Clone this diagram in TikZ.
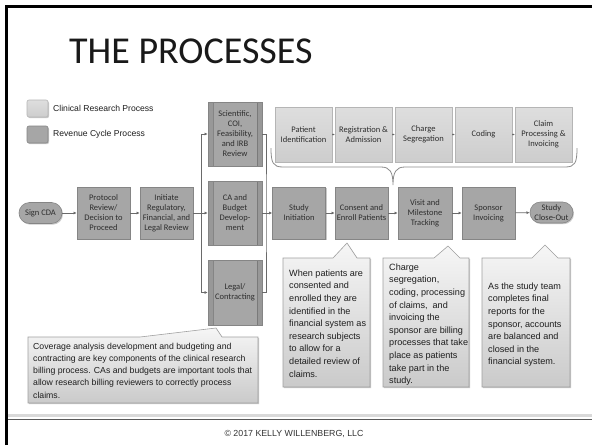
\documentclass[tikz,border=0pt]{standalone}
\usepackage{fontspec}
\setmainfont{Carlito}
\newfontfamily\arialf{Liberation Sans}
\usetikzlibrary{arrows.meta,shadows,calc}
\definecolor{boxdark}{HTML}{A6A6A6}
\definecolor{boxedge}{HTML}{858585}
\definecolor{boxlighttop}{HTML}{DEDEDE}
\definecolor{boxlightbot}{HTML}{CDCDCD}
\definecolor{lightedge}{HTML}{B5B5B5}
\definecolor{boxtext}{HTML}{2E2E2E}
\definecolor{linec}{HTML}{6A6A6A}
\definecolor{calltop}{HTML}{F6F6F6}
\definecolor{callbot}{HTML}{CACACA}
\definecolor{calledge}{HTML}{A0A0A0}
\definecolor{calltext}{HTML}{1E1E1E}
\newcommand{\bxfont}{\fontsize{8.5}{10}\selectfont}
\newcommand{\clfont}{\arialf\fontsize{9.1}{12.6}\selectfont}
\newcommand{\clfontb}{\arialf\fontsize{8.7}{12.2}\selectfont}
\newcommand{\lgfont}{\arialf\fontsize{8.6}{10}\selectfont}
\tikzset{
  shad/.style={drop shadow={shadow xshift=1pt,shadow yshift=-1.2pt,opacity=0.35,fill=black!60}},
  dbox/.style={draw=boxedge, line width=0.6pt, fill=boxdark, text=boxtext, minimum width=53pt,
    minimum height=52pt, align=center, inner sep=1pt, font=\bxfont, shad},
  lbox/.style={draw=lightedge, line width=0.6pt, top color=boxlighttop, bottom color=boxlightbot,
    text=boxtext, minimum width=57pt, minimum height=55pt, align=center, inner sep=1pt, font=\bxfont, shad},
  predef/.style={dbox, minimum width=54pt, minimum height=64pt,
    path picture={
      \draw[boxedge, line width=0.6pt] ([xshift=5pt]path picture bounding box.north west) -- ([xshift=5pt]path picture bounding box.south west);
      \draw[boxedge, line width=0.6pt] ([xshift=-5pt]path picture bounding box.north east) -- ([xshift=-5pt]path picture bounding box.south east);
      \fill[black, opacity=0.08] (path picture bounding box.north west) rectangle ([xshift=5pt]path picture bounding box.south west);
      \fill[black, opacity=0.08] ([xshift=-5pt]path picture bounding box.north east) rectangle (path picture bounding box.south east);
    }},
  pill/.style={dbox, rounded corners=10.5pt, minimum width=43pt, minimum height=21pt},
  arr/.style={draw=linec, line width=0.6pt, -{Latex[length=3.2pt,width=3pt]}},
  sarr/.style={draw=linec, line width=0.5pt, -{Latex[length=2pt,width=2pt]}},
  bus/.style={draw=linec, line width=0.6pt},
  callshape/.style={draw=calledge, line width=0.6pt, top color=calltop, bottom color=callbot, shad},
  ctext/.style={anchor=north west, align=left, inner sep=0pt, font=\clfont, text=calltext},
  legbox/.style={draw=lightedge, line width=0.6pt, rounded corners=2pt, minimum width=21pt, minimum height=17pt, inner sep=0pt, shad},
  legtext/.style={anchor=west, inner sep=0pt, font=\lgfont, text=calltext}
}
\begin{document}
\begin{tikzpicture}[x=1pt,y=-1pt]
\useasboundingbox (0,0) rectangle (592,445);
\fill[white] (0,0) rectangle (592,445);
% slide frame
\draw[black, line width=3pt] (6.5,445) -- (6.5,6.5) -- (592,6.5);
% footer
\draw[black!15, line width=3pt] (8,415.5) -- (592,415.5);
\draw[black!65, line width=1pt] (8,419.5) -- (592,419.5);
\node[font=\arialf\fontsize{8.8}{10}\selectfont, text=black!80, inner sep=0pt] (copy) at (294,434) {© 2017 KELLY WILLENBERG, LLC};

% title
\node[anchor=base west, inner sep=0pt, font=\fontsize{38}{40}\selectfont, text=black!90] (title) at (69,63) {THE PROCESSES};

% legend
\node[legbox, top color=boxlighttop, bottom color=boxlightbot] (legA) at (37.5,108.5) {};
\node[legbox, fill=boxdark, draw=boxedge] (legB) at (37.5,134.5) {};
\node[legtext] (legAt) at (53,108.5) {Clinical Research Process};
\node[legtext] (legBt) at (53,134.5) {Revenue Cycle Process};

% callout shapes
\path[callshape] (283,258) -- (333,258) -- (347,243) -- (357,258) -- (370,258) -- (370,387) -- (283,387) -- cycle;
\path[callshape] (383,258) -- (434,258) -- (448,246) -- (460,258) -- (469,258) -- (469,387) -- (383,387) -- cycle;
\path[callshape] (482,258) -- (532,258) -- (545,245) -- (558,258) -- (570,258) -- (570,387) -- (482,387) -- cycle;
\path[callshape] (28,337) -- (140,337) -- (216,328) -- (222,337) -- (258,337) -- (258,403) -- (28,403) -- cycle;

% brace
\draw[draw=black!45, line width=0.8pt] (271,148) .. controls (271,163) and (273,167) .. (283,167) -- (381,167)
  .. controls (390,167) and (393,172) .. (393,185) .. controls (393,172) and (396,167) .. (405,167)
  -- (565,167) .. controls (575,167) and (577,163) .. (577,148);

% main flow
\node[pill] (sign) at (40.5,213) {Sign CDA};
\node[dbox] (prot) at (103.5,213) {Protocol\\Review/\\Decision to\\Proceed};
\node[dbox] (init) at (166.5,213) {Initiate\\Regulatory,\\Financial, and\\Legal Review};
\node[predef] (sci) at (235,134) {Scientific,\\COI,\\Feasibility,\\and IRB\\Review};
\node[predef] (ca) at (235,213) {CA and\\Budget\\Develop-\\ment};
\node[predef, minimum height=65pt] (legal) at (235,292.5) {Legal/\\Contracting};
\node[dbox] (study) at (299,213) {Study\\Initiation};
\node[dbox] (consent) at (361.5,213) {Consent and\\Enroll Patients};
\node[dbox, minimum width=54pt] (visit) at (425,213) {Visit and\\Milestone\\Tracking};
\node[dbox] (sponsor) at (488.5,213) {Sponsor\\Invoicing};
\node[pill] (close) at (551.5,212.5) {Study\\Close-Out};

% top row
\node[lbox] (pid) at (303.5,134.5) {Patient\\Identification};
\node[lbox] (reg) at (363.5,134.5) {Registration \&\\Admission};
\node[lbox] (chg) at (423.5,134.5) {Charge\\Segregation};
\node[lbox] (cod) at (483.5,134.5) {Coding};
\node[lbox] (claim) at (543.5,134.5) {Claim\\Processing \&\\Invoicing};

% connectors
\coordinate (busL) at (201,213);
\coordinate (busR) at (266,213);
\draw[arr] (sign) -- (prot);
\draw[arr] (prot) -- (init);
\draw[arr] (init) -- (ca);
\draw[arr] (busL) |- (sci.west);
\draw[arr] (busL) |- (legal.west);
\draw[bus] (sci.east) -| (busR) |- (legal.east);
\draw[arr] (ca) -- (study);
\draw[arr] (study) -- (consent);
\draw[arr] (consent) -- (visit);
\draw[arr] (visit) -- (sponsor);
\draw[arr] (sponsor) -- (close);
\draw[sarr] (pid) -- (reg);
\draw[sarr] (reg) -- (chg);
\draw[sarr] (chg) -- (cod);
\draw[sarr] (cod) -- (claim);

% callout texts
\node[ctext] (c1) at (289,269.5) {When patients are\\consented and\\enrolled they are\\identified in the\\financial system as\\research subjects\\to allow for a\\detailed review of\\claims.};
\node[ctext] (c2) at (389,263.5) {Charge\\segregation,\\coding, processing\\of claims,\ \ and\\invoicing the\\sponsor are billing\\processes that take\\place as patients\\take part in the\\study.};
\node[ctext] (c3) at (488,282.5) {As the study team\\completes final\\reports for the\\sponsor, accounts\\are balanced and\\closed in the\\financial system.};
\node[ctext, font=\clfontb] (c4) at (33,342.8) {Coverage analysis development and budgeting and\\contracting are key components of the clinical research\\billing process. CAs and budgets are important tools that\\allow research billing reviewers to correctly process\\claims.};
\end{tikzpicture}
\end{document}
